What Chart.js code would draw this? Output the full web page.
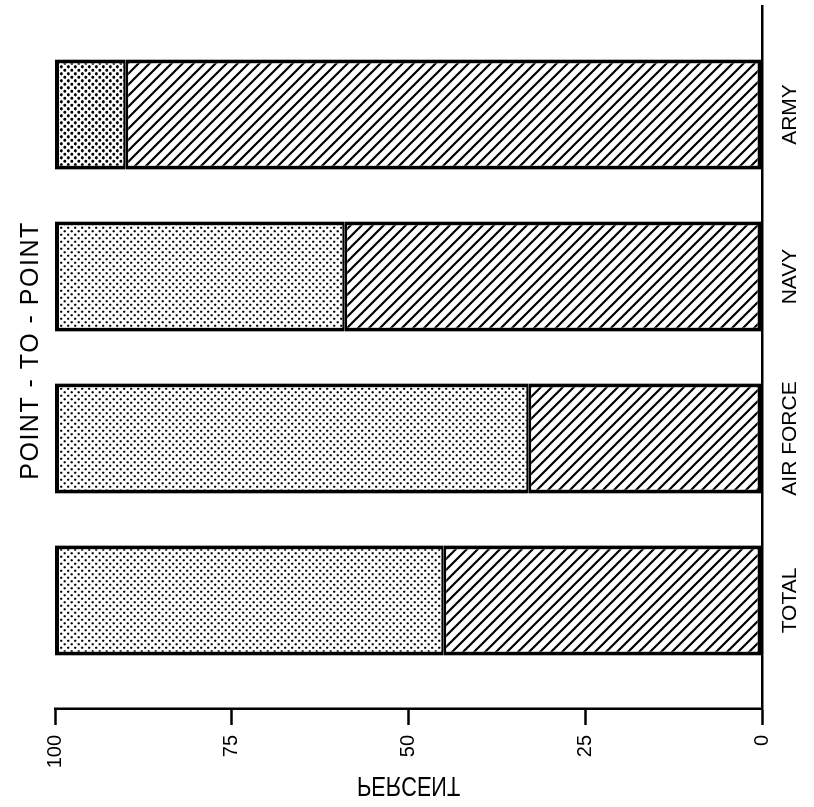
<!DOCTYPE html>
<html>
<head>
<meta charset="utf-8">
<script src="https://cdn.jsdelivr.net/npm/chart.js@4.4.0/dist/chart.umd.min.js"></script>
<style>
  html, body { margin: 0; padding: 0; background: #fff; overflow: hidden; }
  /* chart is drawn upright, then the whole canvas is turned a quarter to the left */
  #wrap {
    position: absolute; left: 0; top: 0; width: 807px; height: 814px;
    transform-origin: 0 0; transform: translate(0px, 807px) rotate(-90deg);
  }
</style>
</head>
<body>
<div id="wrap"><canvas id="chart" width="807" height="814"></canvas></div>
<script>
const categories = ['TOTAL', 'AIR FORCE', 'NAVY', 'ARMY'];
const hatchedShare = [45, 33, 59, 90];
const dottedShare = [55, 67, 41, 10];
const percentTicks = [0, 25, 50, 75, 100];
const chartTitle = 'POINT - TO - POINT';

const FONT = '"Liberation Sans", Arial, sans-serif';
const canvas = document.getElementById('chart');
const ctx = canvas.getContext('2d');

// diagonal hatching, tile drawn as "\" so it shows "/" after the turn
function makeHatch() {
    const s = 11;
    const c = document.createElement('canvas');
    c.width = s; c.height = s;
    const g = c.getContext('2d');
    g.fillStyle = '#fff';
    g.fillRect(0, 0, s, s);
    g.strokeStyle = '#000';
    g.lineWidth = 2.2;
    g.beginPath();
    g.moveTo(-2, -2); g.lineTo(s + 2, s + 2);
    g.moveTo(-2, s - 2); g.lineTo(2, s + 2);
    g.moveTo(s - 2, -2); g.lineTo(s + 2, 2);
    g.stroke();
    return ctx.createPattern(c, 'repeat');
}

// halftone stipple
function makeDots(r) {
    const s = 7;
    const c = document.createElement('canvas');
    c.width = s; c.height = s;
    const g = c.getContext('2d');
    g.fillStyle = '#fff';
    g.fillRect(0, 0, s, s);
    g.fillStyle = '#000';
    [[1.75, 1.75], [5.25, 5.25]].forEach(([x, y]) => {
        g.beginPath();
        g.arc(x, y, r, 0, Math.PI * 2);
        g.fill();
    });
    return ctx.createPattern(c, 'repeat');
}

const hatch = makeHatch();
const dots = makeDots(1.15);
const dotsDark = makeDots(1.55);

// chart title + the mirrored axis title of the original
const extraText = {
    id: 'extraText',
    afterDraw(chart) {
        const area = chart.chartArea;
        const y = chart.scales.y;
        const c = chart.ctx;

        c.save();
        c.fillStyle = '#000';
        c.textAlign = 'center';
        c.textBaseline = 'middle';
        c.font = '25px ' + FONT;
        if ('letterSpacing' in c) c.letterSpacing = '1.5px';
        c.fillText(chartTitle, (area.left + area.right) / 2 + 7, 31);
        c.restore();

        c.save();
        c.translate(23, (y.top + y.bottom) / 2);
        c.rotate(Math.PI / 2);
        c.scale(0.8, -1);
        c.font = '27px ' + FONT;
        c.fillStyle = '#000';
        c.textAlign = 'center';
        c.textBaseline = 'middle';
        c.fillText('PERCENT', 0, 0);
        c.restore();
    }
};

new Chart(ctx, {
    type: 'bar',
    data: {
        datasets: [
            {
                label: 'hatched',
                data: hatchedShare.map((v, i) => ({ x: i, y: v })),
                backgroundColor: hatch,
                borderColor: '#000',
                borderWidth: { left: 4, right: 4, bottom: 4, top: 2.5 },
                borderSkipped: false,
                barPercentage: 0.68,
                categoryPercentage: 1
            },
            {
                label: 'dotted',
                data: dottedShare.map((v, i) => ({ x: i, y: v })),
                backgroundColor: [dots, dots, dots, dotsDark],
                borderColor: '#000',
                borderWidth: { left: 4, right: 4, top: 4, bottom: 2.5 },
                borderSkipped: false,
                barPercentage: 0.68,
                categoryPercentage: 1
            }
        ]
    },
    options: {
        responsive: false,
        animation: false,
        devicePixelRatio: 1,
        layout: { padding: { top: 55, left: 0, right: 6, bottom: 0 } },
        plugins: {
            legend: { display: false },
            tooltip: { enabled: false },
            title: { display: false }
        },
        scales: {
            x: {
                type: 'linear',
                stacked: true,
                min: -0.67,
                max: 3.67,
                offset: false,
                afterBuildTicks: s => { s.ticks = categories.map((c, i) => ({ value: i })); },
                afterFit: s => { s.height = 52; },
                border: { display: true, color: '#000', width: 2.5 },
                grid: { display: true, drawOnChartArea: false, drawTicks: false },
                ticks: {
                    color: '#000',
                    font: { family: FONT, size: 21 },
                    padding: 16,
                    autoSkip: false,
                    maxRotation: 0,
                    minRotation: 0,
                    callback: (v, i) => categories[i]
                }
            },
            y: {
                stacked: true,
                min: 0,
                max: 100,
                afterBuildTicks: s => { s.ticks = percentTicks.map(v => ({ value: v })); },
                afterFit: s => { s.width = 98; },
                border: { display: true, color: '#000', width: 2.5 },
                grid: {
                    drawOnChartArea: false,
                    drawTicks: true,
                    tickLength: 16,
                    tickWidth: 2.5,
                    tickColor: '#000'
                },
                ticks: {
                    color: '#000',
                    font: { family: FONT, size: 20 },
                    padding: 10
                }
            }
        }
    },
    plugins: [extraText]
});
</script>
</body>
</html>
